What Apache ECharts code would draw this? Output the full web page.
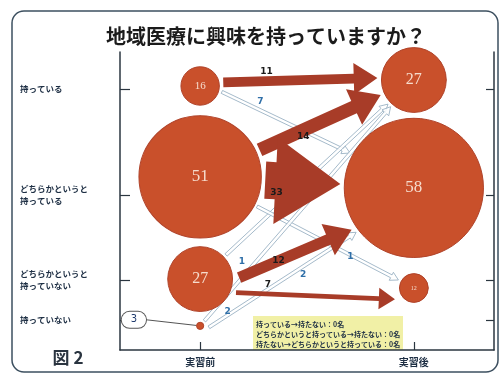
<!DOCTYPE html>
<html>
<head>
<meta charset="utf-8">
<script src="https://cdn.jsdelivr.net/npm/echarts@6/dist/echarts.min.js"></script>
<style>
  html, body { margin: 0; padding: 0; background: #fff; }
  #chart { width: 501px; height: 376px; }
</style>
</head>
<body>
<div id="chart"></div>
<script>
const title = '地域医療に興味を持っていますか？'
const figLabel = '図 2'
const answers = ['持っている', 'どちらかというと\n持っている', 'どちらかというと\n持っていない', '持っていない']
const phases = ['実習前', '実習後']
const before = [16, 51, 27, 3]
const after = [27, 58, 12, 0]
// [実習前の回答, 実習後の回答, 人数]
const flows = [
  [0, 1, 7], [2, 0, 1], [1, 2, 1], [3, 1, 2], [3, 0, 2],
  [0, 0, 11], [1, 0, 14], [1, 1, 33], [2, 1, 12], [2, 2, 7]
]
const noteLines = [
  '持っている→持たない：0名',
  'どちらかというと持っている→持たない：0名',
  '持たない→どちらかというと持っている：0名'
]

// layout
const phaseX = [3, 11]
const rowY = [87.6, 52, 23.5, 10.1]
const nudgeBefore = [1, 6.1, 0.3, -2]
const nudgeAfter = [3, 2.4, -2.7, 0]
const sizeScale = 2.4
const thinFlow = [true, true, true, true, true, false, false, false, false, false]
const flowLayout = [
  { t: 0.3, dx: 0, dy: -9, shift: -4 },
  { t: 0.06, dx: 6, dy: 16, shift: 0 },
  { t: 0.66, dx: 0, dy: 2, shift: 0 },
  { t: 0.64, dx: 0, dy: 8, shift: 6 },
  { t: 0.06, dx: 12, dy: 4, shift: 0 },
  { t: 0.28, dx: 0, dy: -9, shift: -3 },
  { t: 0.36, dx: 0, dy: 6, shift: 0 },
  { t: 0.15, dx: 0, dy: 12, shift: 0 },
  { t: 0.35, dx: 0, dy: 0, shift: 14 },
  { t: 0.2, dx: 0, dy: -9, shift: 12 }
]

const red = '#c9502b'
const arrowRed = '#a83c28'
const ink = '#1e2f44'

function nearest(list, v) {
  let best = 0
  list.forEach((x, i) => { if (Math.abs(x - v) < Math.abs(list[best] - v)) best = i })
  return best
}

function renderFlow(params, api) {
  const i = api.value(3)
  const [from, to, count] = flows[i]
  const lay = flowLayout[i]
  const thin = thinFlow[i]
  const p0 = api.coord([phaseX[0], rowY[from] + nudgeBefore[from]])
  const p1 = api.coord([phaseX[1], rowY[to] + nudgeAfter[to]])
  const r0 = before[from] * sizeScale / 2
  const r1 = after[to] * sizeScale / 2
  const len = Math.hypot(p1[0] - p0[0], p1[1] - p0[1])
  const ux = (p1[0] - p0[0]) / len, uy = (p1[1] - p0[1]) / len
  const nx = -uy, ny = ux
  const gap = thin ? 3 : 4
  const sx = p0[0] + ux * (r0 + gap) + nx * lay.shift
  const sy = p0[1] + uy * (r0 + gap) + ny * lay.shift
  const ex = p1[0] - ux * (r1 + gap) + nx * lay.shift
  const ey = p1[1] - uy * (r1 + gap) + ny * lay.shift
  let w, hw, hl
  if (thin) { w = 1.6; hw = 4.5; hl = 8 }
  else { w = (1.25 * count - 4) / 2; hw = 2 * w + 6; hl = (4 * w + 12) * 0.75 }
  const bx = ex - ux * hl, by = ey - uy * hl
  const pts = [
    [sx + nx * w, sy + ny * w], [bx + nx * w, by + ny * w], [bx + nx * hw, by + ny * hw],
    [ex, ey],
    [bx - nx * hw, by - ny * hw], [bx - nx * w, by - ny * w], [sx - nx * w, sy - ny * w]
  ]
  const lx = sx + (ex - sx) * lay.t + lay.dx
  const ly = sy + (ey - sy) * lay.t + lay.dy
  return {
    type: 'group',
    children: [
      {
        type: 'polygon',
        shape: { points: pts },
        style: thin
          ? { fill: 'rgba(255,255,255,0.85)', stroke: '#8ea8bc', lineWidth: 0.8 }
          : { fill: arrowRed }
      },
      {
        type: 'text',
        z2: 10,
        style: {
          x: lx, y: ly, text: String(count),
          fill: thin ? '#2f6fa8' : '#1a1a1a',
          fontSize: 9, fontWeight: 'bold', fontFamily: 'DejaVu Sans',
          align: 'center', verticalAlign: 'middle'
        }
      }
    ]
  }
}

function labelSize(v) {
  if (v >= 40) return 17
  if (v >= 20) return 16
  if (v >= 15) return 11
  return 6
}

const bubbleData = []
before.forEach((v, i) => {
  const item = { value: [phaseX[0], rowY[i] + nudgeBefore[i], v] }
  if (v < 5) {
    item.label = {
      show: true, position: 'left', distance: 28, formatter: String(v),
      color: '#1f3b6e', fontSize: 10, fontFamily: 'DejaVu Sans', fontWeight: 'normal',
      backgroundColor: '#fff', borderColor: '#555', borderWidth: 1, borderRadius: 9,
      padding: [3, 9]
    }
  }
  bubbleData.push(item)
})
after.forEach((v, i) => {
  if (v > 0) bubbleData.push({ value: [phaseX[1], rowY[i] + nudgeAfter[i], v] })
})
bubbleData.forEach(d => {
  if (!d.label) d.label = { fontSize: labelSize(d.value[2]) }
})

const chart = echarts.init(document.getElementById('chart'))
chart.setOption({
  animation: false,
  backgroundColor: '#fff',
  grid: { left: 120, right: 7, top: 52, bottom: 26 },
  xAxis: {
    type: 'value', min: 0, max: 14,
    splitLine: { show: false },
    axisLine: { lineStyle: { color: '#2b3640', width: 1.5 } },
    axisTick: { customValues: phaseX, inside: true, length: 8, lineStyle: { color: '#2b3640', width: 1.2 } },
    axisLabel: {
      customValues: phaseX, margin: 7,
      formatter: v => phases[nearest(phaseX, v)],
      color: ink, fontSize: 10, fontWeight: 'bold', fontFamily: 'Noto Sans CJK JP'
    }
  },
  yAxis: [
    {
      type: 'value', min: 0, max: 100,
      splitLine: { show: false },
      axisLine: { show: true, lineStyle: { color: '#2b3640', width: 1.5 } },
      axisTick: { show: true, customValues: rowY, inside: true, length: 10, lineStyle: { color: '#2b3640', width: 1.2 } },
      axisLabel: {
        customValues: rowY, align: 'left', margin: 100,
        formatter: v => answers[nearest(rowY, v)],
        color: ink, fontSize: 8.5, fontWeight: 'bold', lineHeight: 12,
        fontFamily: 'Noto Sans CJK JP'
      }
    },
    {
      type: 'value', min: 0, max: 100, position: 'right',
      splitLine: { show: false },
      axisLine: { show: true, lineStyle: { color: '#2b3640', width: 1.5 } },
      axisTick: { show: true, customValues: rowY, inside: true, length: 8, lineStyle: { color: '#2b3640', width: 1.2 } },
      axisLabel: { show: false }
    }
  ],
  graphic: [
    {
      type: 'rect', z: -10, silent: true,
      shape: { x: 12, y: 11, width: 486, height: 361, r: 12 },
      style: { fill: 'none', stroke: '#3d5060', lineWidth: 1.5 }
    },
    {
      type: 'text', z: 10,
      style: {
        x: 266, y: 36, text: title, fill: '#1b1b1b',
        font: 'bold 20px "Noto Sans CJK JP"', align: 'center', verticalAlign: 'middle'
      }
    },
    {
      type: 'text', z: 10,
      style: {
        x: 68, y: 358, text: figLabel, fill: '#2a3440',
        font: 'bold 17px "Noto Sans CJK JP"', align: 'center', verticalAlign: 'middle'
      }
    },
    {
      type: 'group', z: 10, x: 253, y: 316,
      children: [
        { type: 'rect', shape: { x: 0, y: 0, width: 150, height: 34 }, style: { fill: '#f1f0a6' } },
        {
          type: 'text',
          style: {
            x: 3, y: 3, text: noteLines.join('\n'), fill: ink,
            font: 'bold 7px "Noto Sans CJK JP"', lineHeight: 10
          }
        }
      ]
    }
  ],
  series: [
    {
      type: 'custom',
      z: 2,
      renderItem: renderFlow,
      data: flows.map((f, i) => [f[0], f[1], f[2], i])
    },
    {
      type: 'scatter',
      z: 3,
      data: bubbleData,
      symbolSize: d => d[2] * sizeScale,
      itemStyle: { color: red, borderColor: '#b0432a', borderWidth: 1, opacity: 1 },
      label: {
        show: true, position: 'inside',
        formatter: p => String(p.value[2]),
        color: '#f6dccd',
        fontFamily: 'Liberation Serif',
        fontSize: 17
      },
      labelLayout: p => (p.dataIndex === 3 ? { dx: -22, dy: -6 } : {}),
      labelLine: { show: true, lineStyle: { color: '#555', width: 1 } }
    }
  ]
})
</script>
</body>
</html>
